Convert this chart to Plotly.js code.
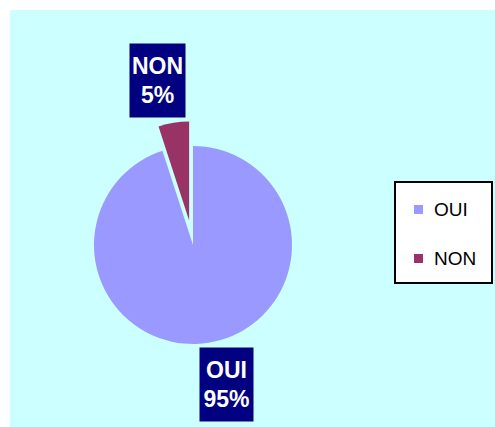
<!DOCTYPE html>
<html>
<head>
<meta charset="utf-8">
<script src="https://cdn.plot.ly/plotly-3.0.1.min.js"></script>
<style>html,body{margin:0;padding:0;background:#fff;}#chart{width:495px;height:427px;}</style>
</head>
<body>
<div id="chart"></div>
<script>
const labels = ['OUI', 'NON'];
const values = [95, 5];
const colors = ['#9999FF', '#993366'];

const W = 495, H = 427;
const total = values.reduce((a, b) => a + b, 0);
const pct = values.map(v => Math.round(v / total * 100) + '%');

function px(x) { return x / W; }
function py(y) { return 1 - y / H; }

// pie geometry (pixels)
const cx = 193, cy = 245, r = 99, maxPull = 0.25;
const half = r * (1 + maxPull);

const trace = {
  type: 'pie',
  labels: labels,
  values: values,
  sort: false,
  direction: 'clockwise',
  rotation: 0,
  pull: [0, maxPull],
  marker: { colors: colors, line: { width: 0 } },
  textinfo: 'none',
  hoverinfo: 'label+percent',
  showlegend: false,
  domain: { x: [px(cx - half), px(cx + half)], y: [py(cy + half), py(cy - half)] }
};

const boxes = [
  { cx: 226.5, cy: 384.5, w: 53, h: 73 },
  { cx: 157.5, cy: 80.5, w: 55, h: 73 }
];

const annotations = labels.map((l, i) => ({
  xref: 'paper', yref: 'paper',
  x: px(boxes[i].cx), y: py(boxes[i].cy),
  xanchor: 'center', yanchor: 'middle',
  text: '<b>' + l + '<br>' + pct[i] + '</b>',
  showarrow: false,
  bgcolor: '#000080',
  width: boxes[i].w, height: boxes[i].h,
  borderpad: 0,
  align: 'center',
  font: { family: 'Liberation Sans, Arial, sans-serif', size: 23, color: '#FFFFFF' }
}));

// legend items
const legX0 = 395, legX1 = 492, legY0 = 182, legY1 = 283;
const itemY = [209.5, 258.5];
const shapes = [
  { type: 'rect', xref: 'paper', yref: 'paper', layer: 'below',
    x0: px(10), x1: 1, y0: 0, y1: py(10),
    fillcolor: '#CCFFFF', line: { width: 0 } },
  { type: 'rect', xref: 'paper', yref: 'paper',
    x0: px(legX0), x1: px(legX1), y0: py(legY1), y1: py(legY0),
    fillcolor: '#FFFFFF', line: { color: '#000000', width: 2 } }
];
labels.forEach((l, i) => {
  shapes.push({ type: 'rect', xref: 'paper', yref: 'paper',
    x0: px(414), x1: px(423), y0: py(itemY[i] + 4.5), y1: py(itemY[i] - 4.5),
    fillcolor: colors[i], line: { width: 0 } });
  annotations.push({ xref: 'paper', yref: 'paper', x: px(432), y: py(itemY[i]),
    xanchor: 'left', yanchor: 'middle', showarrow: false, text: l,
    font: { family: 'Liberation Sans, Arial, sans-serif', size: 19, color: '#000000' } });
});

const layout = {
  width: W, height: H,
  margin: { l: 0, r: 0, t: 0, b: 0 },
  paper_bgcolor: '#FFFFFF',
  showlegend: false,
  shapes: shapes,
  annotations: annotations
};

Plotly.newPlot('chart', [trace], layout, { displayModeBar: false, staticPlot: true });
</script>
</body>
</html>
